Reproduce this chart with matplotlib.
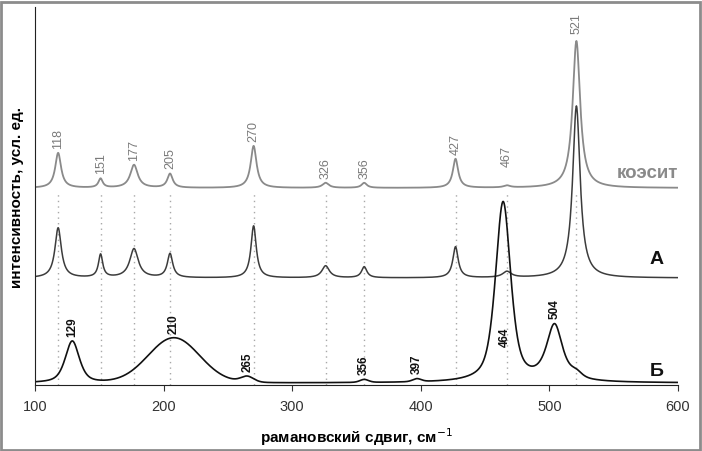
import numpy as np
import matplotlib.pyplot as plt
from matplotlib.patches import Rectangle

plt.rcParams['font.family'] = ['Liberation Sans', 'DejaVu Sans']

# peak parameters (height in pixel-like units, fwhm in cm-1)
coesite_pos = [118, 151, 177, 205, 270, 326, 356, 427, 467, 521]
coesite_amp = [35, 9, 23, 14, 42, 5, 5, 29, 2, 147]
coesite_fwhm = [5.5, 4, 7, 5, 5.5, 6, 5, 5, 6, 7]
coesite_base = 197

a_pos = [118, 151, 177, 205, 270, 326, 356, 427, 467, 521]
a_amp = [50, 23, 29, 24, 52, 12, 11, 31, 6, 172]
a_fwhm = [6, 4, 8, 5, 5, 7, 5, 5, 8, 7]
a_base = 107

b_pos = [129, 208, 265, 356, 397, 464, 504, 521]
b_amp = [42, 45, 6, 3, 3, 180, 56, 5]
b_fwhm = [13, 47, 12, 8, 8, 14, 15, 10]
b_eta = [0.6, 0.0, 0.3, 0.3, 0.3, 0.6, 0.8, 0.5]
b_base = 2

coesite_labels = ['118', '151', '177', '205', '270', '326', '356', '427', '467', '521']
b_labels = ['129', '210', '265', '356', '397', '464', '504']
b_label_pos = [129, 208, 265, 356, 397, 464, 504]

xticks = [100, 200, 300, 400, 500, 600]


def spectrum(x, base, pos, amp, fwhm, eta=None):
    y = np.full_like(x, float(base))
    if eta is None:
        eta = [1.0] * len(pos)
    for p, h, w, e in zip(pos, amp, fwhm, eta):
        lor = 1.0 / (1.0 + ((x - p) / (w / 2.0)) ** 2)
        gau = np.exp(-np.log(2) * ((x - p) / (w / 2.0)) ** 2)
        y += h * (e * lor + (1 - e) * gau)
    return y


x = np.linspace(100, 600, 2501)
y_coe = spectrum(x, coesite_base, coesite_pos, coesite_amp, coesite_fwhm)
y_a = spectrum(x, a_base, a_pos, a_amp, a_fwhm)
y_b = spectrum(x, b_base, b_pos, b_amp, b_fwhm, b_eta)

fig = plt.figure(figsize=(7.02, 4.51), dpi=100)
ax = fig.add_axes([35 / 702, 66 / 451, 643 / 702, 378 / 451])
ax.set_xlim(100, 600)
ax.set_ylim(0, 378)

# dotted guide lines
for p in coesite_pos:
    ax.plot([p, p], [0, coesite_base - 3], color='#a8a8a8', lw=1, ls=(0, (1, 3)))

ax.plot(x, y_coe, color='#8a8a8a', lw=1.3)
ax.plot(x, y_a, color='#3c3c3c', lw=1.1)
ax.plot(x, y_b, color='#111111', lw=1.2)

for p, lab in zip(coesite_pos, coesite_labels):
    yv = np.interp(p, x, y_coe)
    gap = 18 if lab == '467' else 4
    if lab == '521':
        gap = 7
    ax.annotate(lab, (p, yv), xytext=(0, gap * 0.72), textcoords='offset points',
                rotation=90, ha='center', va='bottom', fontsize=9, color='#7a7a7a')

for p, lab in zip(b_label_pos, b_labels):
    if lab == '464':
        ax.text(p + 1, 38, lab, rotation=90, ha='center', va='bottom',
                fontsize=8.5, fontweight='bold', color='#111111')
        continue
    yv = np.interp(p, x, y_b)
    ax.annotate(lab, (p, yv), xytext=(0, 3), textcoords='offset points',
                rotation=90, ha='center', va='bottom', fontsize=8.5,
                fontweight='bold', color='#111111')

ax.text(600, 212, 'коэсит', ha='right', va='center', fontsize=13.5,
        fontweight='bold', color='#8a8a8a')
ax.text(589, 125, 'А', ha='right', va='center', fontsize=14,
        fontweight='bold', color='#111111')
ax.text(589, 14, 'Б', ha='right', va='center', fontsize=14,
        fontweight='bold', color='#111111')

for s in ['top', 'right']:
    ax.spines[s].set_visible(False)
ax.spines['left'].set_color('#222222')
ax.spines['bottom'].set_color('#222222')
ax.set_yticks([])
ax.set_xticks(xticks)
ax.tick_params(axis='x', direction='out', length=4, labelsize=10.5,
               colors='#333333', pad=7)

ax.set_xlabel('рамановский сдвиг, см$^{-1}$', fontsize=11, fontweight='bold',
              labelpad=9)
fig.text(17 / 702, 1 - 197 / 451, 'интенсивность, усл. ед.', rotation=90,
         ha='center', va='center', fontsize=11, fontweight='bold')

fig.patches.append(Rectangle((0.002, 0.003), 0.995, 0.993, transform=fig.transFigure,
                             fill=False, edgecolor='#8c8c8c', lw=2))

fig.savefig('out.png', dpi=100)
